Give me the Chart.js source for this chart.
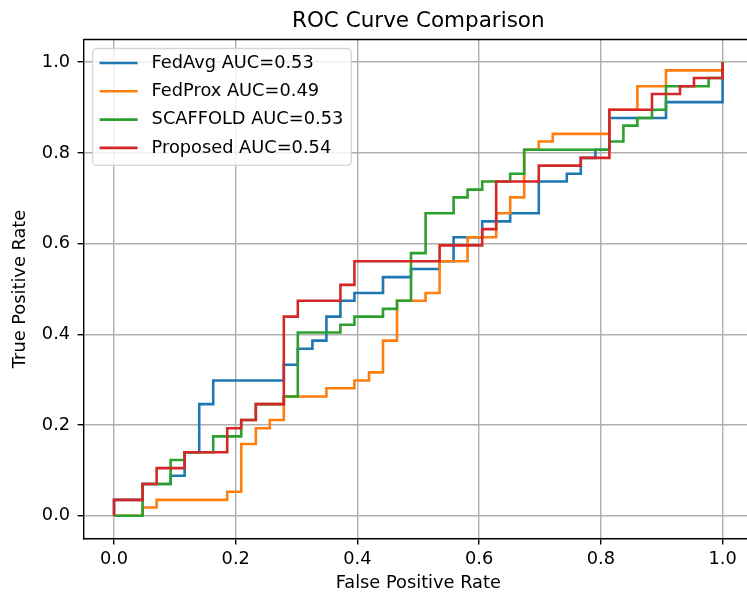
<!DOCTYPE html>
<html>
<head>
<meta charset="utf-8">
<title>ROC Curve Comparison</title>
<script src="https://cdn.jsdelivr.net/npm/chart.js@4.4.0/dist/chart.umd.min.js"></script>
<style>
  html, body { margin: 0; padding: 0; background: #fff; overflow: hidden; }
  #wrap { width: 754px; height: 599px; }
</style>
</head>
<body>
<div id="wrap"><canvas id="rocChart" width="754" height="599"></canvas></div>
<script>
// ROC points (fpr, tpr), one pair of arrays per model
const fedavgFpr = [0, 0, 0.047, 0.047, 0.093, 0.093, 0.116, 0.116, 0.140, 0.140, 0.163, 0.163, 0.279, 0.279, 0.302, 0.302, 0.326, 0.326, 0.349, 0.349, 0.372, 0.372, 0.395, 0.395, 0.442, 0.442, 0.488, 0.488, 0.535, 0.535, 0.558, 0.558, 0.605, 0.605, 0.651, 0.651, 0.698, 0.698, 0.744, 0.744, 0.767, 0.767, 0.791, 0.791, 0.814, 0.814, 0.907, 0.907, 1, 1];
const fedavgTpr = [0, 0.035, 0.035, 0.070, 0.070, 0.088, 0.088, 0.140, 0.140, 0.246, 0.246, 0.298, 0.298, 0.333, 0.333, 0.368, 0.368, 0.386, 0.386, 0.439, 0.439, 0.474, 0.474, 0.491, 0.491, 0.526, 0.526, 0.544, 0.544, 0.561, 0.561, 0.614, 0.614, 0.649, 0.649, 0.667, 0.667, 0.737, 0.737, 0.754, 0.754, 0.789, 0.789, 0.807, 0.807, 0.877, 0.877, 0.912, 0.912, 1];

const fedproxFpr = [0, 0.047, 0.047, 0.070, 0.070, 0.186, 0.186, 0.209, 0.209, 0.233, 0.233, 0.256, 0.256, 0.279, 0.279, 0.349, 0.349, 0.395, 0.395, 0.419, 0.419, 0.442, 0.442, 0.465, 0.465, 0.512, 0.512, 0.535, 0.535, 0.581, 0.581, 0.628, 0.628, 0.651, 0.651, 0.674, 0.674, 0.698, 0.698, 0.721, 0.721, 0.814, 0.814, 0.860, 0.860, 0.907, 0.907, 1, 1];
const fedproxTpr = [0, 0, 0.018, 0.018, 0.035, 0.035, 0.053, 0.053, 0.158, 0.158, 0.193, 0.193, 0.211, 0.211, 0.263, 0.263, 0.281, 0.281, 0.298, 0.298, 0.316, 0.316, 0.386, 0.386, 0.474, 0.474, 0.491, 0.491, 0.561, 0.561, 0.614, 0.614, 0.667, 0.667, 0.702, 0.702, 0.807, 0.807, 0.825, 0.825, 0.842, 0.842, 0.895, 0.895, 0.947, 0.947, 0.982, 0.982, 1];

const scaffoldFpr = [0, 0.047, 0.047, 0.093, 0.093, 0.116, 0.116, 0.163, 0.163, 0.209, 0.209, 0.233, 0.233, 0.279, 0.279, 0.302, 0.302, 0.372, 0.372, 0.395, 0.395, 0.442, 0.442, 0.465, 0.465, 0.488, 0.488, 0.512, 0.512, 0.558, 0.558, 0.581, 0.581, 0.605, 0.605, 0.651, 0.651, 0.674, 0.674, 0.814, 0.814, 0.837, 0.837, 0.860, 0.860, 0.884, 0.884, 0.907, 0.907, 0.977, 0.977, 1, 1];
const scaffoldTpr = [0, 0, 0.070, 0.070, 0.123, 0.123, 0.140, 0.140, 0.175, 0.175, 0.211, 0.211, 0.246, 0.246, 0.263, 0.263, 0.404, 0.404, 0.421, 0.421, 0.439, 0.439, 0.456, 0.456, 0.474, 0.474, 0.579, 0.579, 0.667, 0.667, 0.702, 0.702, 0.719, 0.719, 0.737, 0.737, 0.754, 0.754, 0.807, 0.807, 0.825, 0.825, 0.860, 0.860, 0.877, 0.877, 0.895, 0.895, 0.947, 0.947, 0.965, 0.965, 1];

const proposedFpr = [0, 0, 0.047, 0.047, 0.070, 0.070, 0.116, 0.116, 0.186, 0.186, 0.209, 0.209, 0.233, 0.233, 0.279, 0.279, 0.302, 0.302, 0.372, 0.372, 0.395, 0.395, 0.535, 0.535, 0.605, 0.605, 0.628, 0.628, 0.698, 0.698, 0.767, 0.767, 0.814, 0.814, 0.884, 0.884, 0.930, 0.930, 0.953, 0.953, 1, 1];
const proposedTpr = [0, 0.035, 0.035, 0.070, 0.070, 0.105, 0.105, 0.140, 0.140, 0.193, 0.193, 0.211, 0.211, 0.246, 0.246, 0.439, 0.439, 0.474, 0.474, 0.509, 0.509, 0.561, 0.561, 0.596, 0.596, 0.632, 0.632, 0.737, 0.737, 0.772, 0.772, 0.789, 0.789, 0.895, 0.895, 0.930, 0.930, 0.947, 0.947, 0.965, 0.965, 1];

const modelNames = ['FedAvg', 'FedProx', 'SCAFFOLD', 'Proposed'];
const aucValues = [0.53, 0.49, 0.53, 0.54];
const tickValues = [0, 0.2, 0.4, 0.6, 0.8, 1.0];

const FONT = "'DejaVu Sans', 'Liberation Sans', sans-serif";
const colors = ['#1f77b4', '#ff7f0e', '#2ca02c', '#d62728'];
const curves = [
    [fedavgFpr, fedavgTpr],
    [fedproxFpr, fedproxTpr],
    [scaffoldFpr, scaffoldTpr],
    [proposedFpr, proposedTpr]
];

function toPoints(fpr, tpr) {
    return fpr.map(function (x, i) { return { x: x, y: tpr[i] }; });
}

const datasets = modelNames.map(function (name, i) {
    return {
        label: name + ' AUC=' + aucValues[i].toFixed(2),
        data: toPoints(curves[i][0], curves[i][1]),
        borderColor: colors[i],
        backgroundColor: colors[i],
        borderWidth: 2.6,
        pointRadius: 0,
        tension: 0,
        fill: false,
        order: modelNames.length - i // later series drawn on top, like matplotlib
    };
});

// title, top spine and the legend box (matplotlib style, upper left)
const decorPlugin = {
    id: 'decor',
    afterDatasetsDraw: function (chart) {
        const ctx = chart.ctx;
        const a = chart.chartArea;
        ctx.save();

        ctx.strokeStyle = '#000';
        ctx.lineWidth = 1.4;
        ctx.beginPath();
        ctx.moveTo(a.left, a.top);
        ctx.lineTo(a.right, a.top);
        ctx.stroke();

        ctx.fillStyle = '#000';
        ctx.font = '21.5px ' + FONT;
        ctx.textAlign = 'center';
        ctx.textBaseline = 'alphabetic';
        ctx.fillText('ROC Curve Comparison', (a.left + a.right) / 2, 26.5);

        ctx.font = '17.8px ' + FONT;
        let textW = 0;
        chart.data.datasets.forEach(function (ds) {
            textW = Math.max(textW, ctx.measureText(ds.label).width);
        });
        const boxX = a.left + 9, boxY = a.top + 9;
        const handleX = boxX + 7, handleLen = 38, textX = handleX + handleLen + 14;
        const boxW = textX - boxX + textW + 8;
        const rowH = 28.3, firstRow = boxY + 14.5;
        const boxH = rowH * 3 + 32;

        ctx.beginPath();
        ctx.roundRect(boxX, boxY, boxW, boxH, 4);
        ctx.fillStyle = 'rgba(255,255,255,0.8)';
        ctx.fill();
        ctx.strokeStyle = 'rgba(204,204,204,0.8)';
        ctx.lineWidth = 1.4;
        ctx.stroke();

        ctx.textAlign = 'left';
        ctx.textBaseline = 'middle';
        chart.data.datasets.forEach(function (ds, i) {
            const y = firstRow + i * rowH;
            ctx.strokeStyle = ds.borderColor;
            ctx.lineWidth = 2.6;
            ctx.beginPath();
            ctx.moveTo(handleX, y);
            ctx.lineTo(handleX + handleLen, y);
            ctx.stroke();
            ctx.fillStyle = '#000';
            ctx.fillText(ds.label, textX, y);
        });
        ctx.restore();
    }
};

const tickFont = { family: FONT, size: 17.8 };
const gridOpts = { color: '#b0b0b0', lineWidth: 1.4, tickColor: '#000', tickLength: 6, tickWidth: 1.4 };

new Chart(document.getElementById('rocChart'), {
    type: 'line',
    data: { datasets: datasets },
    options: {
        responsive: false,
        animation: false,
        parsing: true,
        layout: { padding: { top: 39.5, right: 1, left: 0, bottom: 0 } },
        plugins: {
            legend: { display: false },
            title: { display: false },
            tooltip: { enabled: false }
        },
        scales: {
            x: {
                type: 'linear',
                min: -0.05,
                max: 1.05,
                afterBuildTicks: function (s) { s.ticks = tickValues.map(function (v) { return { value: v }; }); },
                afterFit: function (s) { s.height = 599 - 538.4; },
                ticks: {
                    font: tickFont, color: '#000', padding: 4.5, maxRotation: 0, autoSkip: false,
                    callback: function (v) { return v.toFixed(1); }
                },
                grid: gridOpts,
                border: { color: '#000', width: 1.4 },
                title: { display: true, text: 'False Positive Rate', font: tickFont, color: '#000', padding: { top: 0, bottom: 4.8 } }
            },
            y: {
                type: 'linear',
                min: -0.05,
                max: 1.05,
                afterBuildTicks: function (s) { s.ticks = tickValues.map(function (v) { return { value: v }; }); },
                afterFit: function (s) { s.width = 83.6; },
                ticks: {
                    font: tickFont, color: '#000', padding: 7.5, autoSkip: false,
                    callback: function (v) { return v.toFixed(1); }
                },
                grid: gridOpts,
                border: { color: '#000', width: 1.4 },
                title: { display: true, text: 'True Positive Rate', font: tickFont, color: '#000', padding: { top: 10, bottom: 0 } }
            }
        }
    },
    plugins: [decorPlugin]
});
</script>
</body>
</html>
